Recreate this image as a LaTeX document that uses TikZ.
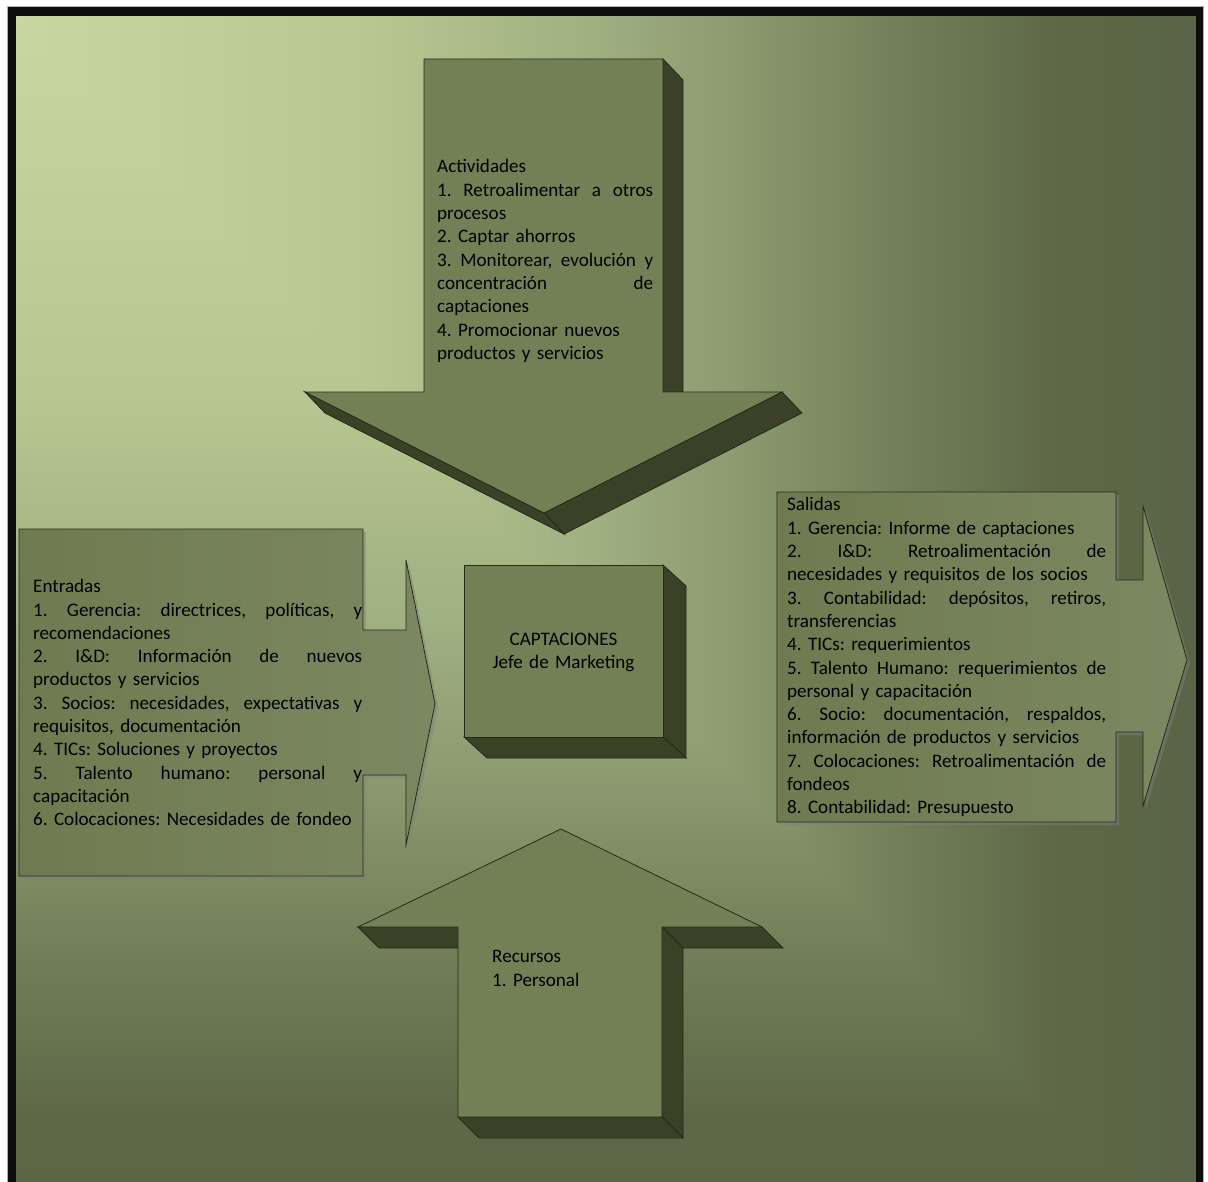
\documentclass[tikz,border=0pt]{standalone}
\usepackage{fontspec}
\setmainfont{Carlito}
\definecolor{bgA}{HTML}{C6D79F}
\definecolor{bgB}{HTML}{B6C791}
\definecolor{bgC}{HTML}{A0B182}
\definecolor{bgD}{HTML}{8D9C71}
\definecolor{bgE}{HTML}{727E58}
\definecolor{bgF}{HTML}{5E6848}
\definecolor{bgG}{HTML}{5A6446}
\definecolor{olivefront}{HTML}{737F55}
\definecolor{olivedark}{HTML}{3B4127}
\definecolor{edgeline}{HTML}{262A19}
\definecolor{calL}{HTML}{6F7A50}
\definecolor{calR}{HTML}{7C8861}
% rectangular "from corner" background: horizontal part and vertical part
\pgfdeclarehorizontalshading{bgacross}{100bp}{color(0bp)=(bgA); color(25bp)=(bgA); color(40bp)=(bgB); color(49bp)=(bgC); color(55bp)=(bgD); color(62.5bp)=(bgE); color(69bp)=(bgF); color(75bp)=(bgG); color(100bp)=(bgG)}
\pgfdeclareverticalshading{bgdown}{100bp}{color(0bp)=(bgG); color(25bp)=(bgG); color(31bp)=(bgF); color(37.5bp)=(bgE); color(45bp)=(bgD); color(51bp)=(bgC); color(60bp)=(bgB); color(75bp)=(bgA); color(100bp)=(bgA)}
\tikzset{
  face/.style={fill=olivefront, draw=edgeline, line width=0.8pt, line join=miter},
  side/.style={fill=olivedark, draw=edgeline, line width=0.8pt, line join=miter},
  callout/.style={draw=edgeline, line width=0.8pt, left color=calL, right color=calR},
  calshadow/.style={fill=gray, opacity=0.45},
  txt/.style={anchor=north west, inner sep=0pt, align=left, text=black,
    font=\fontsize{19.1}{23.3}\selectfont\frenchspacing},
  framebar/.style={fill=black!95},
}
% a line stretched to the full given width (spaces made stretchable)
\newcommand\jline[2]{\makebox[#1][s]{\spaceskip=0pt plus 1fil\relax #2}}
\begin{document}
\begin{tikzpicture}[x=1pt,y=-1pt]
\useasboundingbox (0,0) rectangle (1208,1182);
\fill[white] (0,0) rectangle (1208,1182);

% background and frame (the frame runs off the bottom edge)
\begin{scope}
  \clip (0,0) rectangle (1208,1182);
  \fill[bgG] (16,16) rectangle (1196,1182);
  \shade[shading=bgacross] (16,16) rectangle (1196,1266);
  \begin{scope}
    \clip (16,16) -- (16,1266) -- (1196,1266) -- cycle;
    \shade[shading=bgdown] (16,16) rectangle (1196,1266);
  \end{scope}
  \draw[gray!60, line width=1pt] (7,1182) -- (7,7) -- (1203.5,7) -- (1203.5,1182);
  \fill[framebar] (7.5,7.5) rectangle (16,1182);
  \fill[framebar] (7.5,7.5) rectangle (1202.5,16);
  \fill[framebar] (1196,7.5) rectangle (1202.5,1182);
\end{scope}

% Actividades: 3D arrow pointing down
\filldraw[side] (663,59) -- (683,80) -- (683,413) -- (663,392) -- cycle;
\filldraw[side] (782,392) -- (802,413) -- (564,534) -- (544,513) -- cycle;
\filldraw[side] (305,392) -- (325,413) -- (564,534) -- (544,513) -- cycle;
\filldraw[face] (424,59) -- (663,59) -- (663,392) -- (782,392) -- (544,513)
  -- (305,392) -- (424,392) -- cycle;
\node[txt, text width=216pt] (act) at (437,156.4) {\strut Actividades\\
\jline{216pt}{1. Retroalimentar a otros}\\
procesos\\
2. Captar ahorros\\
\jline{216pt}{3. Monitorear, evolución y}\\
\jline{216pt}{concentración de}\\
captaciones\\
4. Promocionar nuevos\\
productos y servicios};

% Entradas: right arrow callout
\fill[calshadow, shift={(3,3)}] (19,529) -- (363,529) -- (363,630) -- (406,630)
  -- (406,560) -- (435,704) -- (406,845) -- (406,775) -- (363,775) -- (363,876)
  -- (19,876) -- cycle;
\path[callout] (19,529) -- (363,529) -- (363,630) -- (406,630) -- (406,560)
  -- (435,704) -- (406,845) -- (406,775) -- (363,775) -- (363,876) -- (19,876) -- cycle;
\node[txt, text width=329pt] (ent) at (33,576.2) {\strut Entradas\\
\jline{329pt}{1. Gerencia: directrices, políticas, y}\\
recomendaciones\\
\jline{329pt}{2. I\&D: Información de nuevos}\\
productos y servicios\\
\jline{329pt}{3. Socios: necesidades, expectativas y}\\
requisitos, documentación\\
4. TICs: Soluciones y proyectos\\
\jline{329pt}{5. Talento humano: personal y}\\
capacitación\\
6. Colocaciones: Necesidades de fondeo};

% Salidas: right arrow callout
\fill[calshadow, shift={(3,3)}] (777,492) -- (1116,492) -- (1116,580) -- (1143,580)
  -- (1143,506) -- (1187,660) -- (1143,806) -- (1143,732) -- (1116,732) -- (1116,822)
  -- (777,822) -- cycle;
\path[callout] (777,492) -- (1116,492) -- (1116,580) -- (1143,580) -- (1143,506)
  -- (1187,660) -- (1143,806) -- (1143,732) -- (1116,732) -- (1116,822) -- (777,822) -- cycle;
\node[txt, text width=319pt] (sal) at (787,494.4) {\strut Salidas\\
1. Gerencia: Informe de captaciones\\
\jline{319pt}{2. I\&D: Retroalimentación de}\\
necesidades y requisitos de los socios\\
\jline{319pt}{3. Contabilidad: depósitos, retiros,}\\
transferencias\\
4. TICs: requerimientos\\
\jline{319pt}{5. Talento Humano: requerimientos de}\\
personal y capacitación\\
\jline{319pt}{6. Socio: documentación, respaldos,}\\
información de productos y servicios\\
\jline{319pt}{7. Colocaciones: Retroalimentación de}\\
fondeos\\
8. Contabilidad: Presupuesto};

% CAPTACIONES: 3D box
\filldraw[side] (663,565) -- (686,586) -- (686,758) -- (663,737) -- cycle;
\filldraw[side] (464,737) -- (663,737) -- (686,758) -- (487,758) -- cycle;
\filldraw[face] (464,565) rectangle (663,737);
\node[txt, anchor=north, align=center, text width=199pt] (cap) at (563.5,628.7)
  {\strut CAPTACIONES\\Jefe de Marketing};

% Recursos: 3D arrow pointing up
\filldraw[side] (358,927) -- (379,948) -- (479,948) -- (458,927) -- cycle;
\filldraw[side] (662,927) -- (762,927) -- (783,948) -- (683,948) -- cycle;
\filldraw[side] (662,927) -- (683,948) -- (683,1138) -- (662,1117) -- cycle;
\filldraw[side] (458,1117) -- (662,1117) -- (683,1138) -- (479,1138) -- cycle;
\filldraw[face] (458,1117) -- (458,927) -- (358,927) -- (561,829) -- (762,927)
  -- (662,927) -- (662,1117) -- cycle;
\node[txt, text width=160pt] (rec) at (492,946.4) {\strut Recursos\\1. Personal};
\end{tikzpicture}
\end{document}
